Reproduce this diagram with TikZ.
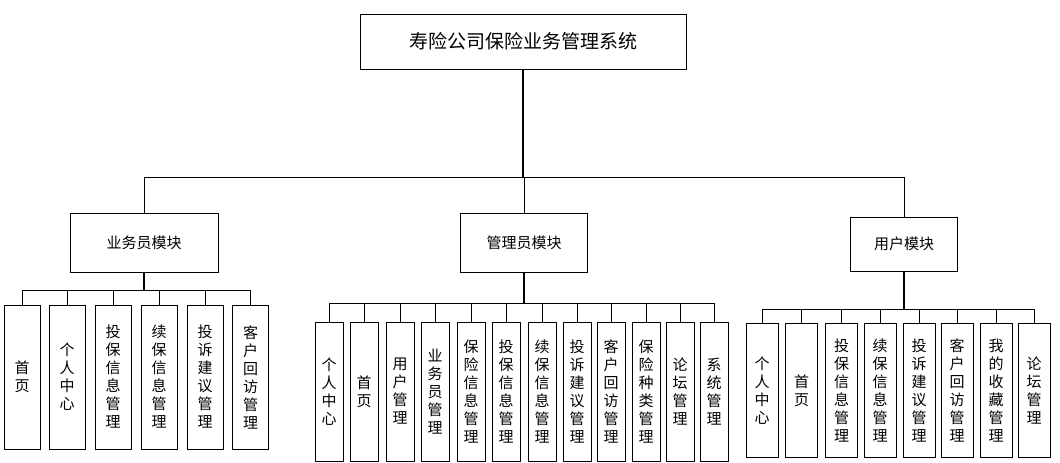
\documentclass[tikz,border=0pt]{standalone}
\usepackage{fontspec}
\setmainfont{Noto Sans CJK SC}
\begin{document}
\begin{tikzpicture}[x=1pt,y=-1pt,
  box/.style={draw,thick,fill=white,inner sep=0pt,font=\fontsize{15}{18}\selectfont},
  leaf/.style={box,align=center,minimum width=#1},
  trunk/.style={line width=1.6pt},
  twig/.style={line width=0.8pt}]
\useasboundingbox (0,0) rectangle (1060,463);
\node[box,minimum width=326,minimum height=55,font=\fontsize{19}{22}\selectfont] (root) at (523,41.5) {寿险公司保险业务管理系统};
\node[box,minimum width=148,minimum height=59] (staff) at (144,242.5) {业务员模块};
\node[box,minimum width=127,minimum height=59] (admin) at (524,242.5) {管理员模块};
\node[box,minimum width=107,minimum height=54] (user) at (904,244) {用户模块};
\coordinate (bus) at (523,177);
\draw[trunk] (root.south) -- (bus);
\foreach \m in {staff,admin,user}
  \draw[twig] (bus) -| (\m.north);
% leaves
\coordinate (bstaff) at (144,290);
\coordinate (badmin) at (524,303);
\coordinate (buser) at (904,309);
\foreach \x/\t [count=\i] in {22/首\\页, 67/个\\人\\中\\心, 113/投\\保\\信\\息\\管\\理,
    159/续\\保\\信\\息\\管\\理, 205/投\\诉\\建\\议\\管\\理, 250.5/客\\户\\回\\访\\管\\理}{
  \node[leaf=36,minimum height=144] (s\i) at (\x,377) {\t};
  \draw[twig] (bstaff) -| (s\i.north);
}
\draw[trunk] (staff.south) -- (bstaff);
\foreach \x/\t [count=\i] in {329/个\\人\\中\\心, 364/首\\页, 400/用\\户\\管\\理,
    435/业\\务\\员\\管\\理, 471/保\\险\\信\\息\\管\\理, 506/投\\保\\信\\息\\管\\理,
    542/续\\保\\信\\息\\管\\理, 577/投\\诉\\建\\议\\管\\理, 611/客\\户\\回\\访\\管\\理,
    646/保\\险\\种\\类\\管\\理, 680/论\\坛\\管\\理, 714/系\\统\\管\\理}{
  \node[leaf=28,minimum height=139] (a\i) at (\x,391.5) {\t};
  \draw[twig] (badmin) -| (a\i.north);
}
\draw[trunk] (admin.south) -- (badmin);
\foreach \x/\t [count=\i] in {762/个\\人\\中\\心, 801.5/首\\页, 841.5/投\\保\\信\\息\\管\\理,
    880/续\\保\\信\\息\\管\\理, 919/投\\诉\\建\\议\\管\\理, 957/客\\户\\回\\访\\管\\理,
    996/我\\的\\收\\藏\\管\\理, 1034/论\\坛\\管\\理}{
  \node[leaf=32,minimum height=134] (u\i) at (\x,390.5) {\t};
  \draw[twig] (buser) -| (u\i.north);
}
\draw[trunk] (user.south) -- (buser);
\end{tikzpicture}
\end{document}
